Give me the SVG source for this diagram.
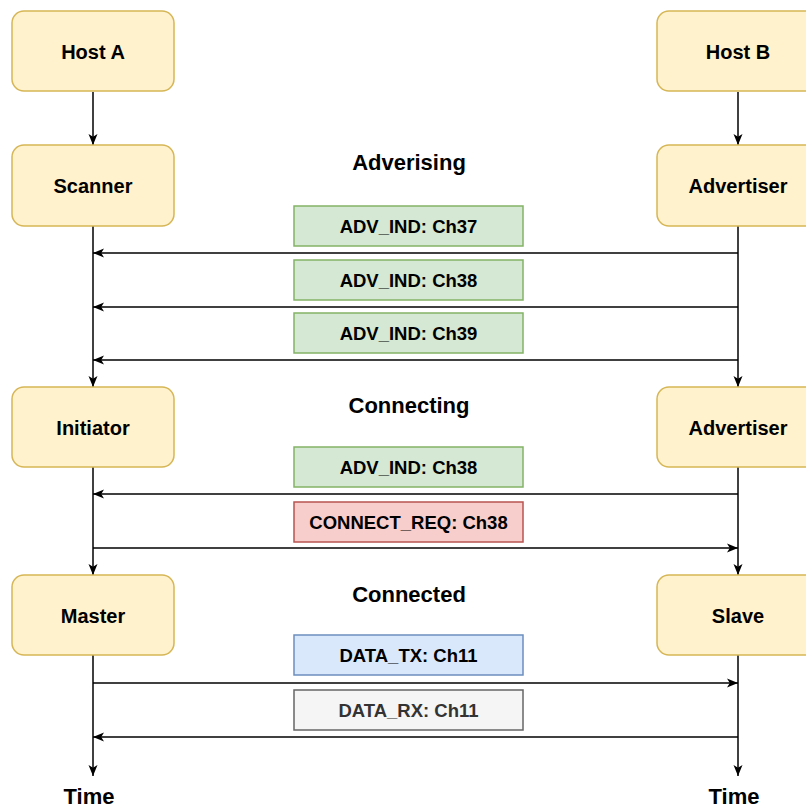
<svg xmlns="http://www.w3.org/2000/svg" width="806" height="809" viewBox="0 0 806 809">
  <defs>
    <marker id="arrow" markerUnits="userSpaceOnUse" markerWidth="12" markerHeight="10" refX="11" refY="5" orient="auto">
      <path d="M0,0.5 L11,5 L0,9.5 L2.8,5 Z" fill="#000"/>
    </marker>
    <style>
      .node rect { fill: #fff2cc; stroke: #d6b656; stroke-width: 1.5; }
      .node text { font-family: "Liberation Sans", Arial, sans-serif; font-weight: bold; font-size: 20px; fill: #000; text-anchor: middle; }
      .msg rect { stroke-width: 1.5; }
      .msg text { font-family: "Liberation Sans", Arial, sans-serif; font-weight: bold; font-size: 18.5px; fill: #000; text-anchor: middle; }
      .green rect { fill: #d5e8d4; stroke: #82b366; }
      .red rect { fill: #f8cecc; stroke: #b85450; }
      .blue rect { fill: #dae8fc; stroke: #6c8ebf; }
      .grey rect { fill: #f5f5f5; stroke: #666666; }
      .grey text { fill: #333333; }
      .title { font-family: "Liberation Sans", Arial, sans-serif; font-weight: bold; font-size: 22px; fill: #000; text-anchor: middle; }
      .edge { fill: none; stroke: #000; stroke-width: 1.5; marker-end: url(#arrow); }
    </style>
  </defs>
  <rect width="806" height="809" fill="#fff"/>

  <!-- lifeline connectors and messages -->
  <g id="connectors">
    <!-- left lifeline -->
    <path class="edge" d="M93,92 L93,145"/>
    <path class="edge" d="M93,226 L93,387"/>
    <path class="edge" d="M93,467 L93,575"/>
    <path class="edge" d="M93,655 L93,776"/>
    <!-- right lifeline -->
    <path class="edge" d="M738,92 L738,145"/>
    <path class="edge" d="M738,226 L738,387"/>
    <path class="edge" d="M738,467 L738,575"/>
    <path class="edge" d="M738,655 L738,776"/>
    <!-- messages -->
    <path class="edge" d="M738,253 L93,253"/>
    <path class="edge" d="M738,307 L93,307"/>
    <path class="edge" d="M738,360 L93,360"/>
    <path class="edge" d="M738,494 L93,494"/>
    <path class="edge" d="M93,548 L738,548"/>
    <path class="edge" d="M93,683 L738,683"/>
    <path class="edge" d="M738,737 L93,737"/>
  </g>

  <!-- Host A side -->
  <g id="host-a" class="node">
    <rect x="12" y="11" width="162" height="80" rx="12"/>
    <text x="93" y="59">Host A</text>
  </g>
  <g id="scanner" class="node">
    <rect x="12" y="145" width="162" height="81" rx="12"/>
    <text x="93" y="193">Scanner</text>
  </g>
  <g id="initiator" class="node">
    <rect x="12" y="387" width="162" height="80" rx="12"/>
    <text x="93" y="435">Initiator</text>
  </g>
  <g id="master" class="node">
    <rect x="12" y="575" width="162" height="80" rx="12"/>
    <text x="93" y="623">Master</text>
  </g>

  <!-- Host B side -->
  <g id="host-b" class="node">
    <rect x="657" y="11" width="162" height="80" rx="12"/>
    <text x="738" y="59">Host B</text>
  </g>
  <g id="advertiser-1" class="node">
    <rect x="657" y="145" width="162" height="81" rx="12"/>
    <text x="738" y="193">Advertiser</text>
  </g>
  <g id="advertiser-2" class="node">
    <rect x="657" y="387" width="162" height="80" rx="12"/>
    <text x="738" y="435">Advertiser</text>
  </g>
  <g id="slave" class="node">
    <rect x="657" y="575" width="162" height="80" rx="12"/>
    <text x="738" y="623">Slave</text>
  </g>

  <!-- phase titles -->
  <g id="phase-advertising"><text class="title" x="409" y="170">Adverising</text></g>
  <g id="phase-connecting"><text class="title" x="409" y="413">Connecting</text></g>
  <g id="phase-connected"><text class="title" x="409" y="602">Connected</text></g>

  <!-- message labels -->
  <g id="adv-ch37" class="msg green">
    <rect x="294" y="206" width="229" height="40"/>
    <text x="408.5" y="233">ADV_IND: Ch37</text>
  </g>
  <g id="adv-ch38" class="msg green">
    <rect x="294" y="260" width="229" height="40"/>
    <text x="408.5" y="287">ADV_IND: Ch38</text>
  </g>
  <g id="adv-ch39" class="msg green">
    <rect x="294" y="313" width="229" height="40"/>
    <text x="408.5" y="340">ADV_IND: Ch39</text>
  </g>
  <g id="adv-ch38-connect" class="msg green">
    <rect x="294" y="447" width="229" height="40"/>
    <text x="408.5" y="474">ADV_IND: Ch38</text>
  </g>
  <g id="connect-req" class="msg red">
    <rect x="294" y="502" width="229" height="40"/>
    <text x="408.5" y="529">CONNECT_REQ: Ch38</text>
  </g>
  <g id="data-tx" class="msg blue">
    <rect x="294" y="635" width="229" height="40"/>
    <text x="408.5" y="662">DATA_TX: Ch11</text>
  </g>
  <g id="data-rx" class="msg grey">
    <rect x="294" y="690" width="229" height="40"/>
    <text x="408.5" y="717">DATA_RX: Ch11</text>
  </g>

  <!-- time axis labels -->
  <g id="time-left"><text class="title" x="89" y="804">Time</text></g>
  <g id="time-right"><text class="title" x="734" y="804">Time</text></g>
</svg>
